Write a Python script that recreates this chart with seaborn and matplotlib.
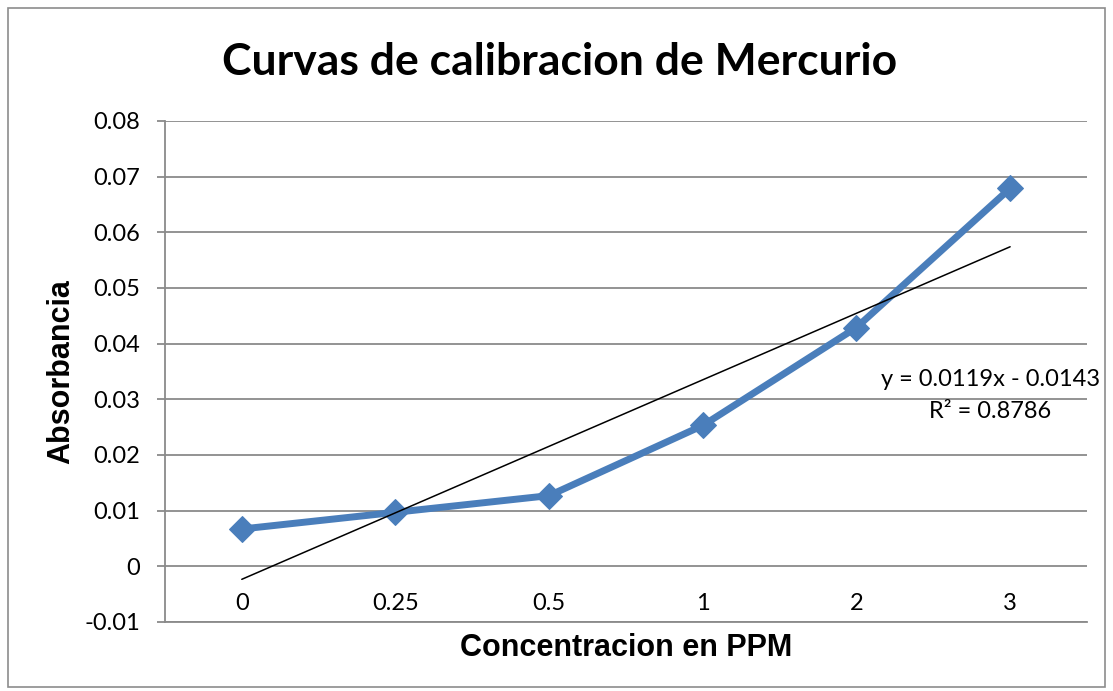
import numpy as np
import pandas as pd
import matplotlib
matplotlib.use("Agg")
import matplotlib.pyplot as plt
import seaborn as sns
from matplotlib.patches import Rectangle

# Data
concentracion = ["0", "0.25", "0.5", "1", "2", "3"]
absorbancia = [0.0067, 0.0097, 0.0127, 0.0253, 0.0429, 0.0679]
ecuacion = "y = 0.0119x - 0.0143\nR² = 0.8786"

df = pd.DataFrame({"pos": np.arange(len(concentracion)),
                   "conc": concentracion,
                   "abs": absorbancia})

sns.set_theme(style="white")
plt.rcParams["font.family"] = ["Lato", "DejaVu Sans"]
plt.rcParams["text.color"] = "black"
plt.rcParams["xtick.color"] = "black"
plt.rcParams["ytick.color"] = "black"
plt.rcParams["axes.labelcolor"] = "black"

fig = plt.figure(figsize=(11.13, 6.91), dpi=100)
ax = fig.add_axes([0.1482, 0.0999, 0.8284, 0.725])

# outer chart border
fig.patches.append(Rectangle((0.007, 0.006), 0.986, 0.982, transform=fig.transFigure,
                             fill=False, edgecolor="#8c8c8c", linewidth=1.2))

# gridlines
for v in np.arange(-0.01, 0.081, 0.01):
    ax.axhline(v, color="#8a8a8a", linewidth=1.3, zorder=0)

sns.lineplot(data=df, x="pos", y="abs", ax=ax, color="#4a7ebb", linewidth=5,
             marker="D", markersize=13, markeredgecolor="#4a7ebb", zorder=3)

# linear trendline
sns.regplot(data=df, x="pos", y="abs", ax=ax, scatter=False, ci=None,
            line_kws={"color": "black", "linewidth": 1.1, "zorder": 4})

ax.set_xlim(-0.5, len(concentracion) - 0.5)
ax.set_ylim(-0.01, 0.08)
ax.set_yticks(np.arange(-0.01, 0.081, 0.01))
ax.set_yticklabels(["-0.01", "0", "0.01", "0.02", "0.03", "0.04", "0.05", "0.06", "0.07", "0.08"])
ax.set_xticks(df["pos"])
ax.set_xticklabels(concentracion)
ax.tick_params(axis="y", labelsize=17, length=6, width=1.3, color="#8a8a8a",
               labelcolor="black", left=True, pad=12)
ax.tick_params(axis="x", labelsize=17, length=0, pad=-21, labelcolor="black")

for s in ["top", "right"]:
    ax.spines[s].set_visible(False)
for s in ["left", "bottom"]:
    ax.spines[s].set_color("#8a8a8a")
    ax.spines[s].set_linewidth(1.3)

ax.set_xlabel("Concentracion en PPM", fontsize=22, fontweight="bold",
              family="Liberation Sans", labelpad=8)
ax.set_ylabel("Absorbancia", fontsize=22, fontweight="bold",
              family="Liberation Sans", labelpad=6)

fig.text(0.503, 0.910, "Curvas de calibracion de Mercurio", ha="center", va="center",
         fontsize=32, fontweight="bold")

ax.text(4.87, 0.0307, ecuacion, ha="center", va="center", fontsize=17,
        multialignment="center", linespacing=1.6)

fig.savefig("out.png", dpi=100)
